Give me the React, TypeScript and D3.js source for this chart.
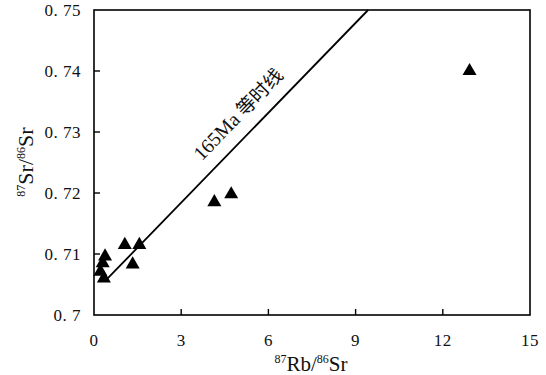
import React from "react";
import * as d3 from "d3";

const rbSr: number[] = [0.38, 0.3, 0.22, 0.34, 1.06, 1.56, 1.33, 4.14, 4.72, 12.92];
const srSr: number[] = [0.7096, 0.7085, 0.7071, 0.706, 0.7115, 0.7115, 0.7083, 0.7185, 0.7198, 0.74];
const isochronX: number[] = [0.41, 9.43];
const isochronY: number[] = [0.7057, 0.75];
const xTicks: number[] = [0, 3, 6, 9, 12, 15];
const yTicks: number[] = [0.7, 0.71, 0.72, 0.73, 0.74, 0.75];
const yTickLabels: string[] = ["0. 7", "0. 71", "0. 72", "0. 73", "0. 74", "0. 75"];
const isochronLabel = ["165Ma ", "等时线"];

const W = 546, H = 375;
const L = 94, R = 530, T = 10, B = 315;

export default function App() {
  const x = d3.scaleLinear().domain([0, 15]).range([L, R]);
  const y = d3.scaleLinear().domain([0.7, 0.75]).range([B, T]);
  const tri = d3.symbol(d3.symbolTriangle, 85)();
  const lineGen = d3.line<number>().x((_, i) => x(isochronX[i])).y((_, i) => y(isochronY[i]));
  const x0 = x(isochronX[0]), y0 = y(isochronY[0]), x1 = x(isochronX[1]), y1 = y(isochronY[1]);
  const ang = (Math.atan2(y1 - y0, x1 - x0) * 180) / Math.PI;
  const serif = "'Liberation Serif', 'DejaVu Serif', serif";
  return (
    <svg width={W} height={H} style={{ position: "absolute", left: 0, top: 0, background: "#fff" }}>
      <rect x={0} y={0} width={W} height={H} fill="#fff" />
      <rect x={L} y={T} width={R - L} height={B - T} fill="none" stroke="#000" strokeWidth={1.6} />
      {xTicks.slice(1, -1).map((t) => (
        <line key={"xt" + t} x1={x(t)} x2={x(t)} y1={B} y2={B - 6} stroke="#000" strokeWidth={1.4} />
      ))}
      {yTicks.slice(1, -1).map((t) => (
        <line key={"yt" + t} x1={L} x2={L + 6} y1={y(t)} y2={y(t)} stroke="#000" strokeWidth={1.4} />
      ))}
      {xTicks.map((t) => (
        <text key={"xl" + t} x={x(t)} y={346} textAnchor="middle" fontFamily={serif} fontSize={17} fill="#111" letterSpacing={0.5}>
          {t}
        </text>
      ))}
      {yTicks.map((t, i) => (
        <text key={"yl" + t} x={81} y={y(t) + 6} textAnchor="end" fontFamily={serif} fontSize={17} fill="#111" letterSpacing={0.5}>
          {yTickLabels[i]}
        </text>
      ))}
      <path d={lineGen(isochronX) || ""} fill="none" stroke="#000" strokeWidth={1.8} />
      <text
        transform={`translate(${243},${119}) rotate(${ang})`}
        textAnchor="middle"
        fontFamily={serif}
        fontSize={20}
        fill="#111"
      >
        <tspan fontFamily={serif}>{isochronLabel[0]}</tspan>
        <tspan fontFamily="'Noto Sans CJK SC', sans-serif" fontSize={19}>{isochronLabel[1]}</tspan>
      </text>
      {rbSr.map((v, i) => (
        <path key={"p" + i} d={tri || ""} transform={`translate(${x(v)},${y(srSr[i])})`} fill="#000" />
      ))}
      <text x={311} y={371} textAnchor="middle" fontFamily={serif} fontSize={21} fill="#111">
        <tspan fontSize={12} dy={-8}>87</tspan>
        <tspan dy={8}>Rb/</tspan>
        <tspan fontSize={12} dy={-8}>86</tspan>
        <tspan dy={8}>Sr</tspan>
      </text>
      <text transform="translate(33,162) rotate(-90)" textAnchor="middle" fontFamily={serif} fontSize={22} fill="#111">
        <tspan fontSize={12} dy={-8}>87</tspan>
        <tspan dy={8}>Sr/</tspan>
        <tspan fontSize={12} dy={-8}>86</tspan>
        <tspan dy={8}>Sr</tspan>
      </text>
    </svg>
  );
}
